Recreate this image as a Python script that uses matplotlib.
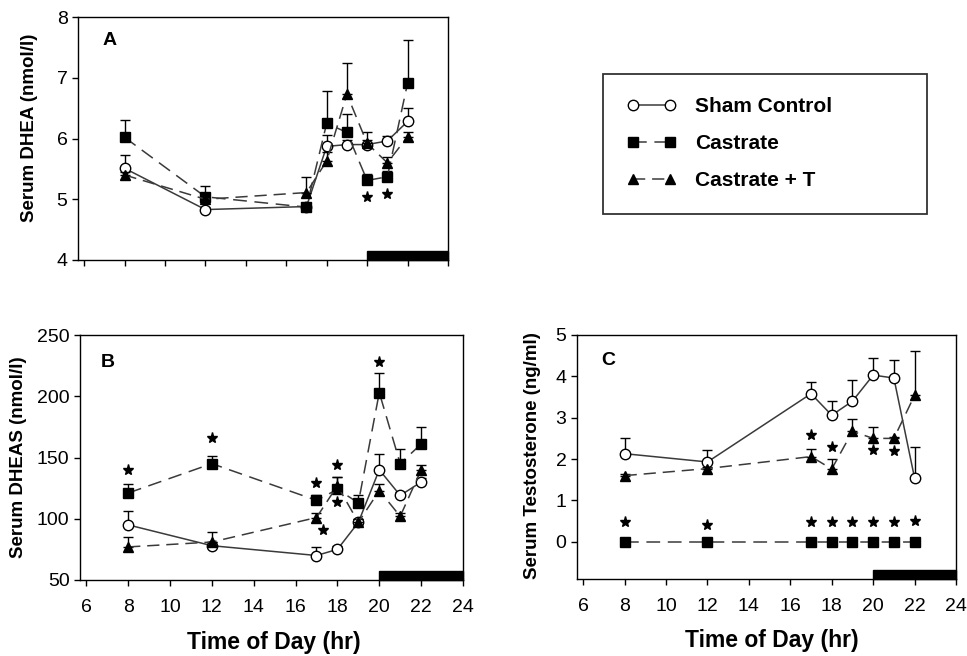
import matplotlib
matplotlib.use("Agg")
import matplotlib.pyplot as plt
from matplotlib.patches import Rectangle
import numpy as np

plt.rcParams['font.family'] = ['Liberation Sans', 'DejaVu Sans']

# ---------------- data ----------------
hours = [8, 12, 17, 18, 19, 20, 21, 22]
xticks = [6, 8, 10, 12, 14, 16, 18, 20, 22, 24]
series_names = ["Sham Control", "Castrate", "Castrate + T"]

# Panel A: serum DHEA (nmol/l)
sham_A = [5.51, 4.83, 4.88, 5.87, 5.90, 5.90, 5.96, 6.28]
sham_A_err = [0.22, 0.04, 0.04, 0.18, 0.08, 0.08, 0.08, 0.22]
cast_A = [6.02, 5.04, 4.87, 6.25, 6.10, 5.31, 5.37, 6.91]
cast_A_err = [0.28, 0.18, 0.04, 0.53, 0.30, 0.10, 0.10, 0.71]
castT_A = [5.40, 5.00, 5.11, 5.63, 6.73, 5.92, 5.60, 6.03]
castT_A_err = [0.05, 0.04, 0.26, 0.15, 0.51, 0.19, 0.10, 0.08]
stars_A_x = [20, 21]
stars_A_y = [5.04, 5.08]
yticks_A = [4, 5, 6, 7, 8]

# Panel B: serum DHEAS (nmol/l)
sham_B = [95, 78, 70, 75, 97, 140, 119, 130]
sham_B_err = [11, 3, 7, 3, 3, 13, 3, 3]
cast_B = [121, 145, 115, 124, 113, 203, 145, 161]
cast_B_err = [7, 6, 4, 10, 6, 16, 12, 14]
castT_B = [77, 81, 101, 127, 97, 123, 102, 140]
castT_B_err = [8, 8, 4, 7, 3, 5, 3, 4]
stars_B_x = [8, 12, 17, 17.3, 18, 18, 20]
stars_B_y = [140, 166, 129, 91, 144, 114, 228]
yticks_B = [50, 100, 150, 200, 250]

# Panel C: serum testosterone (ng/ml)
sham_C = [2.13, 1.93, 3.58, 3.06, 3.40, 4.03, 3.96, 1.54]
sham_C_err = [0.37, 0.29, 0.29, 0.34, 0.50, 0.42, 0.44, 0.76]
cast_C = [0, 0, 0, 0, 0, 0, 0, 0]
cast_C_err = [0, 0, 0, 0, 0, 0, 0, 0]
castT_C = [1.60, 1.77, 2.06, 1.76, 2.67, 2.50, 2.50, 3.54]
castT_C_err = [0.04, 0.04, 0.19, 0.24, 0.30, 0.27, 0.04, 1.08]
stars_C_x = [8, 12, 17, 18, 19, 20, 21, 22, 17, 18, 20, 21]
stars_C_y = [0.47, 0.40, 0.47, 0.47, 0.47, 0.47, 0.47, 0.51, 2.57, 2.30, 2.22, 2.19]
yticks_C = [0, 1, 2, 3, 4, 5]

# ---------------- figure ----------------
W, H = 967, 656
fig = plt.figure(figsize=(W / 100, H / 100), dpi=100)


def ax_px(left, top, right, bottom):
    return fig.add_axes([left / W, 1 - bottom / H, (right - left) / W, (bottom - top) / H])


axA = ax_px(78, 17, 448, 260)
axB = ax_px(80, 335, 463, 580)
axC = ax_px(577, 335, 956, 579)

line_col = '#3a3a3a'
styles = [
    dict(marker='o', ms=7.5, mfc='white', mec='black', mew=1.0, dashes=None),
    dict(marker='s', ms=7.0, mfc='black', mec='black', mew=1.0, dashes=(9, 5)),
    dict(marker='^', ms=7.5, mfc='black', mec='black', mew=1.0, dashes=(8, 4.5)),
]


def draw(ax, data, errs, ylim, yticks, stars_x, stars_y, letter, ylabel, show_xlabels):
    handles = []
    for k, (y, e) in enumerate(zip(data, errs)):
        st = styles[k]
        ax.errorbar(hours, y, yerr=[np.zeros(len(e)), e], fmt='none',
                    ecolor='black', elinewidth=1.0, capsize=3.5, capthick=1.0,
                    zorder=2 + k)
        kw = dict(color=line_col, lw=1.1, marker=st['marker'], markersize=st['ms'],
                  markerfacecolor=st['mfc'], markeredgecolor=st['mec'],
                  markeredgewidth=st['mew'], zorder=3 + k)
        if st['dashes'] is not None:
            ln, = ax.plot(hours, y, linestyle='--', dashes=st['dashes'], **kw)
        else:
            ln, = ax.plot(hours, y, linestyle='-', **kw)
        handles.append(ln)
    ax.plot(stars_x, stars_y, linestyle='none', marker='*', color='black',
            markersize=8, zorder=6)
    ax.set_xlim(5.7, 24)
    ax.set_ylim(*ylim)
    ax.set_xticks(xticks)
    ax.set_yticks(yticks)
    if show_xlabels:
        ax.set_xticklabels([str(v) for v in xticks])
    else:
        ax.set_xticklabels([])
    ax.tick_params(axis='both', direction='out', length=4.5, width=1.0,
                   labelsize=14, color='black')
    ax.tick_params(axis='x', pad=9)
    ax.tick_params(axis='y', pad=3)
    for s in ax.spines.values():
        s.set_linewidth(1.0)
        s.set_color('black')
    # dark period bar
    ax.add_patch(Rectangle((20, 0), 4, 0.037, transform=ax.get_xaxis_transform(),
                           facecolor='black', edgecolor='black', zorder=7,
                           clip_on=False))
    ax.text(letter[1], letter[2], letter[0], transform=ax.transAxes,
            fontsize=14, fontweight='bold', ha='left', va='center')
    ax.set_ylabel(ylabel, fontsize=13.5, fontweight='bold')
    return handles


hA = draw(axA, [sham_A, cast_A, castT_A], [sham_A_err, cast_A_err, castT_A_err],
          (4, 8), yticks_A, stars_A_x, stars_A_y, ('A', 0.065, 0.905),
          'Serum DHEA (nmol/l)', False)
axA.yaxis.set_label_coords(-0.108, 0.545)

draw(axB, [sham_B, cast_B, castT_B], [sham_B_err, cast_B_err, castT_B_err],
     (50, 250), yticks_B, stars_B_x, stars_B_y, ('B', 0.055, 0.886),
     'Serum DHEAS (nmol/l)', True)
axB.yaxis.set_label_coords(-0.138, 0.50)
axB.set_xlabel('Time of Day (hr)', fontsize=16.5, fontweight='bold')
axB.xaxis.set_label_coords(0.507, -0.21)

draw(axC, [sham_C, cast_C, castT_C], [sham_C_err, cast_C_err, castT_C_err],
     (-0.9, 5), yticks_C, stars_C_x, stars_C_y, ('C', 0.065, 0.897),
     'Serum Testosterone (ng/ml)', True)
axC.yaxis.set_label_coords(-0.095, 0.504)
axC.set_xlabel('Time of Day (hr)', fontsize=16.5, fontweight='bold')
axC.xaxis.set_label_coords(0.513, -0.205)

leg = fig.legend(hA, series_names, loc='upper left',
                 bbox_to_anchor=(603 / W, 1 - 212 / H, 324 / W, 138 / H),
                 mode='expand', numpoints=2, handlelength=2.4, handletextpad=0.9,
                 borderpad=1.12, labelspacing=0.86, borderaxespad=0.0,
                 fancybox=False, frameon=True,
                 prop={'family': 'Liberation Sans', 'weight': 'bold', 'size': 15})
leg.get_frame().set_edgecolor('black')
leg.get_frame().set_linewidth(1.3)

fig.savefig('out.png', dpi=100, facecolor='white')
